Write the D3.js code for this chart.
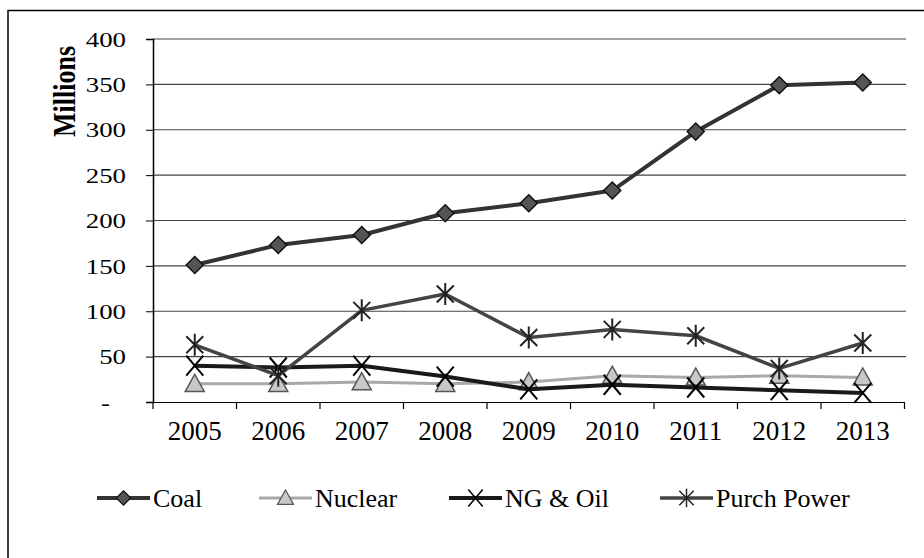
<!DOCTYPE html>
<html>
<head>
<meta charset="utf-8">
<script src="https://cdn.jsdelivr.net/npm/d3@7"></script>
<style>
  body { margin: 0; background: #fff; }
  text { font-family: "Liberation Serif", "Times New Roman", serif; fill: #000; }
</style>
</head>
<body>
<svg></svg>
<script>
// values (millions)
const years = ["2005", "2006", "2007", "2008", "2009", "2010", "2011", "2012", "2013"];
const coal = [151, 173, 184, 208, 219, 233, 298, 349, 352];
const nuclear = [20, 20, 22, 20, 22, 29, 27, 29, 27];
const ngOil = [40, 38, 40, 28, 14, 19, 16, 13, 10];
const purchPower = [63, 29, 101, 119, 71, 80, 73, 37, 65];
const yTicks = [0, 50, 100, 150, 200, 250, 300, 350, 400];
const seriesNames = ["Coal", "Nuclear", "NG & Oil", "Purch Power"];

const svgWidth = 924, svgHeight = 558;
const svg = d3.select("svg")
    .attr("width", svgWidth)
    .attr("height", svgHeight);

const xScale = d3.scaleBand().domain(years).range([153, 904.5]);
const yScale = d3.scaleLinear().domain([0, 400]).range([402, 39]);
const cx = function(d) { return xScale(d) + xScale.bandwidth() / 2; };
const stretch = " scale(1.22,1)";

// marker shapes
function markerPath(type, r) {
  const p = d3.path();
  if (type == "diamond") {
    p.moveTo(0, -r); p.lineTo(r, 0); p.lineTo(0, r); p.lineTo(-r, 0); p.closePath();
  } else if (type == "triangle") {
    p.moveTo(0, -r); p.lineTo(r, r * 0.8); p.lineTo(-r, r * 0.8); p.closePath();
  } else if (type == "x") {
    p.moveTo(-r * 0.85, -r); p.lineTo(r * 0.85, r);
    p.moveTo(r * 0.85, -r); p.lineTo(-r * 0.85, r);
  } else {
    p.moveTo(-r * 0.85, -r * 0.85); p.lineTo(r * 0.85, r * 0.85);
    p.moveTo(r * 0.85, -r * 0.85); p.lineTo(-r * 0.85, r * 0.85);
    p.moveTo(0, -r * 1.1); p.lineTo(0, r * 1.1);
  }
  return p.toString();
}

const series = [
  { name: seriesNames[0], values: coal, stroke: "#333", width: 4, marker: "diamond", r: 8.5, mfill: "#555", mstroke: "#111" },
  { name: seriesNames[1], values: nuclear, stroke: "#a8a8a8", width: 3, marker: "triangle", r: 9.5, mfill: "#c8c8c8", mstroke: "#555" },
  { name: seriesNames[2], values: ngOil, stroke: "#1a1a1a", width: 4, marker: "x", r: 10, mfill: "none", mstroke: "#000" },
  { name: seriesNames[3], values: purchPower, stroke: "#444", width: 3.5, marker: "star", r: 10, mfill: "none", mstroke: "#222" }
];

// chart frame
svg.append("path")
    .attr("d", "M8," + svgHeight + "V10.5H" + svgWidth)
    .attr("fill", "none")
    .attr("stroke", "#000")
    .attr("stroke-width", 1.5);

// gridlines
svg.append("g")
  .selectAll("line")
  .data(yTicks.slice(1))
  .enter()
  .append("line")
    .attr("x1", 153).attr("x2", 906)
    .attr("y1", function(d) { return yScale(d); })
    .attr("y2", function(d) { return yScale(d); })
    .attr("stroke", "#444")
    .attr("stroke-width", 1.2);

// y axis
const yAxis = svg.append("g")
    .attr("transform", "translate(153,0)")
    .call(d3.axisLeft(yScale).tickValues(yTicks).tickSize(7).tickFormat(""));
yAxis.select(".domain").attr("stroke", "#000").attr("stroke-width", 1.5);
yAxis.selectAll(".tick line").attr("stroke", "#000");

svg.append("g")
  .selectAll("text")
  .data(yTicks)
  .enter()
  .append("text")
    .attr("transform", function(d) {
      return "translate(" + (d == 0 ? 110 : 126) + "," + yScale(d) + ")" + stretch;
    })
    .attr("dy", "0.35em")
    .attr("text-anchor", "end")
    .style("font-size", "22px")
    .text(function(d) { return d == 0 ? "-" : d; });

svg.append("text")
    .attr("transform", "translate(75,91.5)" + stretch + " rotate(-90)")
    .attr("text-anchor", "middle")
    .style("font-size", "26px")
    .style("font-weight", "bold")
    .text("Millions");

// x axis with ticks between categories
const xAxis = svg.append("g")
    .attr("transform", "translate(0,402)")
    .call(d3.axisBottom(xScale).tickSize(0).tickFormat(""));
xAxis.select(".domain").attr("stroke", "#000").attr("stroke-width", 1.2);

const bounds = years.map(function(d) { return xScale(d); }).concat([xScale.range()[1]]);
svg.append("g")
  .selectAll("line")
  .data(bounds)
  .enter()
  .append("line")
    .attr("x1", function(d) { return d; })
    .attr("x2", function(d) { return d; })
    .attr("y1", 402).attr("y2", 409)
    .attr("stroke", "#000")
    .attr("stroke-width", 1.2);

svg.append("g")
  .selectAll("text")
  .data(years)
  .enter()
  .append("text")
    .attr("x", function(d) { return cx(d); })
    .attr("y", 440)
    .attr("text-anchor", "middle")
    .style("font-size", "27px")
    .text(function(d) { return d; });

// series lines and markers
const line = d3.line()
    .x(function(d, i) { return cx(years[i]); })
    .y(function(d) { return yScale(d); });

series.forEach(function(s) {
  svg.append("path")
      .datum(s.values)
      .attr("d", line)
      .attr("fill", "none")
      .attr("stroke", s.stroke)
      .attr("stroke-width", s.width)
      .attr("stroke-linejoin", "round");

  svg.append("g")
    .selectAll("path")
    .data(s.values)
    .enter()
    .append("path")
      .attr("transform", function(d, i) { return "translate(" + cx(years[i]) + "," + yScale(d) + ")"; })
      .attr("d", markerPath(s.marker, s.r))
      .attr("fill", s.mfill)
      .attr("stroke", s.mstroke)
      .attr("stroke-width", s.marker == "x" || s.marker == "star" ? 2 : 1.5);
});

// legend
const legendX = [97, 259, 449, 660];
const legend = svg.append("g")
  .selectAll("g")
  .data(series)
  .enter()
  .append("g")
    .attr("transform", function(d, i) { return "translate(" + legendX[i] + ",498)"; });

legend.append("line")
    .attr("x1", 0).attr("x2", 53)
    .attr("stroke", function(d) { return d.stroke; })
    .attr("stroke-width", function(d) { return d.width; });

legend.append("path")
    .attr("transform", "translate(26.5,0)")
    .attr("d", function(d) { return markerPath(d.marker, d.r * 0.85); })
    .attr("fill", function(d) { return d.mfill; })
    .attr("stroke", function(d) { return d.mstroke; })
    .attr("stroke-width", function(d) { return d.marker == "x" || d.marker == "star" ? 1.5 : 1.2; });

legend.append("text")
    .attr("x", 56)
    .attr("dy", "0.35em")
    .style("font-size", "26px")
    .text(function(d) { return d.name; });
</script>
</body>
</html>
